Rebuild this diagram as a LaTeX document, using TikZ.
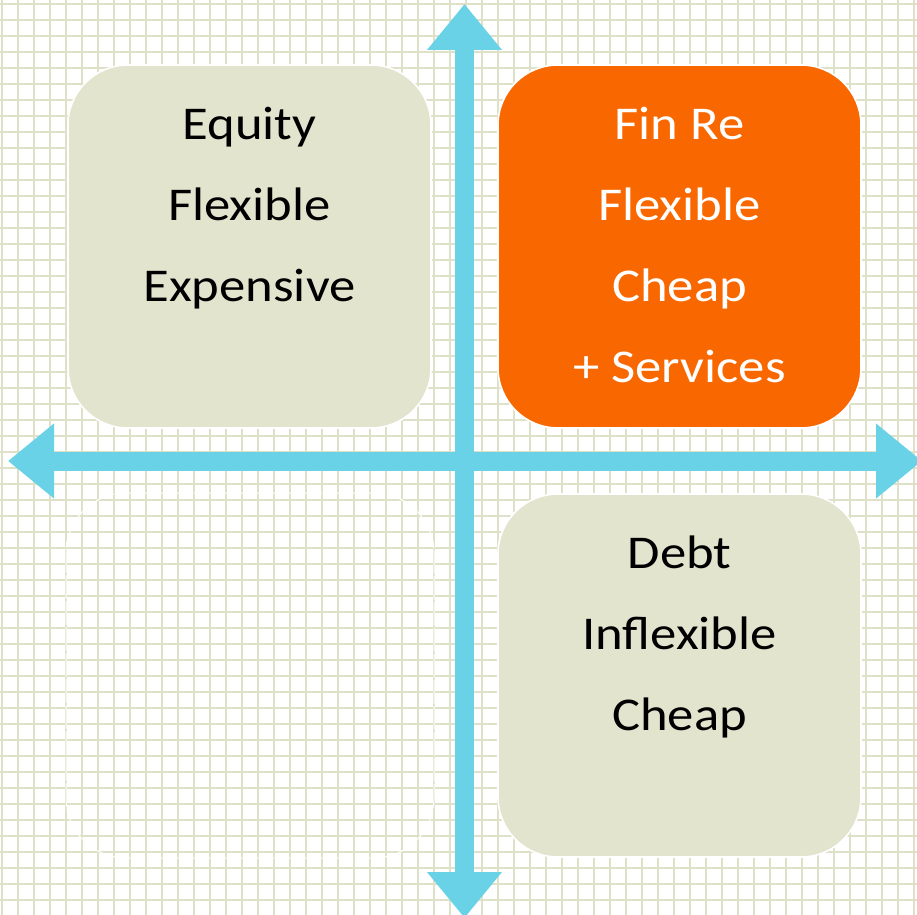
\documentclass[tikz,border=0pt]{standalone}
\usepackage{fontspec}
\setmainfont{Carlito}[FakeStretch=1.12]
\usepackage{tikz}
\usetikzlibrary{arrows.meta, positioning}
\definecolor{paper}{HTML}{E2E4CE}
\definecolor{paperline}{HTML}{DEE1C8}
\definecolor{axisblue}{HTML}{69D2E6}
\definecolor{finorange}{HTML}{F96800}
\tikzstyle{gridline} = [paperline, line width=1pt]
\tikzstyle{quad} = [rounded corners=30pt, minimum width=181.5pt, minimum height=181.5pt, inner sep=0pt, outer sep=0pt, draw=white, line width=0.8pt]
\tikzstyle{axis} = [axisblue, line width=9.5pt, {Triangle[width=36pt,length=23pt]}-{Triangle[width=36pt,length=23pt]}]
\tikzstyle{word} = [inner sep=0pt, anchor=base, font=\fontsize{23.5}{28}\selectfont]

\begin{document}
\begin{tikzpicture}[x=0.5pt,y=-0.5pt]
	% Paper:
	\fill[white] (0,0) rectangle (917,915);
	\useasboundingbox (0,0) rectangle (917,915);
	\foreach \n in {0,...,57}{%
		\draw[gridline] ({1.5+16*\n},0) -- ({1.5+16*\n},915);
		\draw[gridline] (0,{4+16*\n}) -- (917,{4+16*\n});
	}
	
	% Quadrants:
	\node[quad, fill=paper] (eq) at (249.5,246.5) {};
	\node[quad, fill=finorange] (fin) at (679.5,246.5) {};
	\node[quad, fill=paper] (debt) at (679.5,675.5) {};
	\node[quad, minimum width=184pt, minimum height=182.5pt, line width=0.5pt, dash pattern=on 12pt off 1pt] (none) at (250,675.5) {};
	
	% Labels, one line per node:
	\foreach \t [count=\i] in {Equity, Flexible, Expensive}{%
		\node[word] (eq-\i) at ([yshift={-37.3pt-40.5pt*(\i-1)}]eq.north) {\t};
	}
	\foreach \t [count=\i] in {Fin Re, Flexible, Cheap, + Services}{%
		\node[word, white] (fin-\i) at ([yshift={-37.3pt-40.5pt*(\i-1)}]fin.north) {\t};
	}
	\foreach \t [count=\i] in {Debt, Inflexible, Cheap}{%
		\node[word] (debt-\i) at ([yshift={-37.3pt-40.5pt*(\i-1)}]debt.north) {\t};
	}
	
	% Axes:
	\coordinate (up) at (464.5,4);
	\coordinate (down) at (464.5,918);
	\coordinate (left) at (8,461);
	\coordinate (right) at (922,461);
	\draw[axis] (down) -- (up);
	\draw[axis] (left) -- (right);
\end{tikzpicture}
\end{document}
